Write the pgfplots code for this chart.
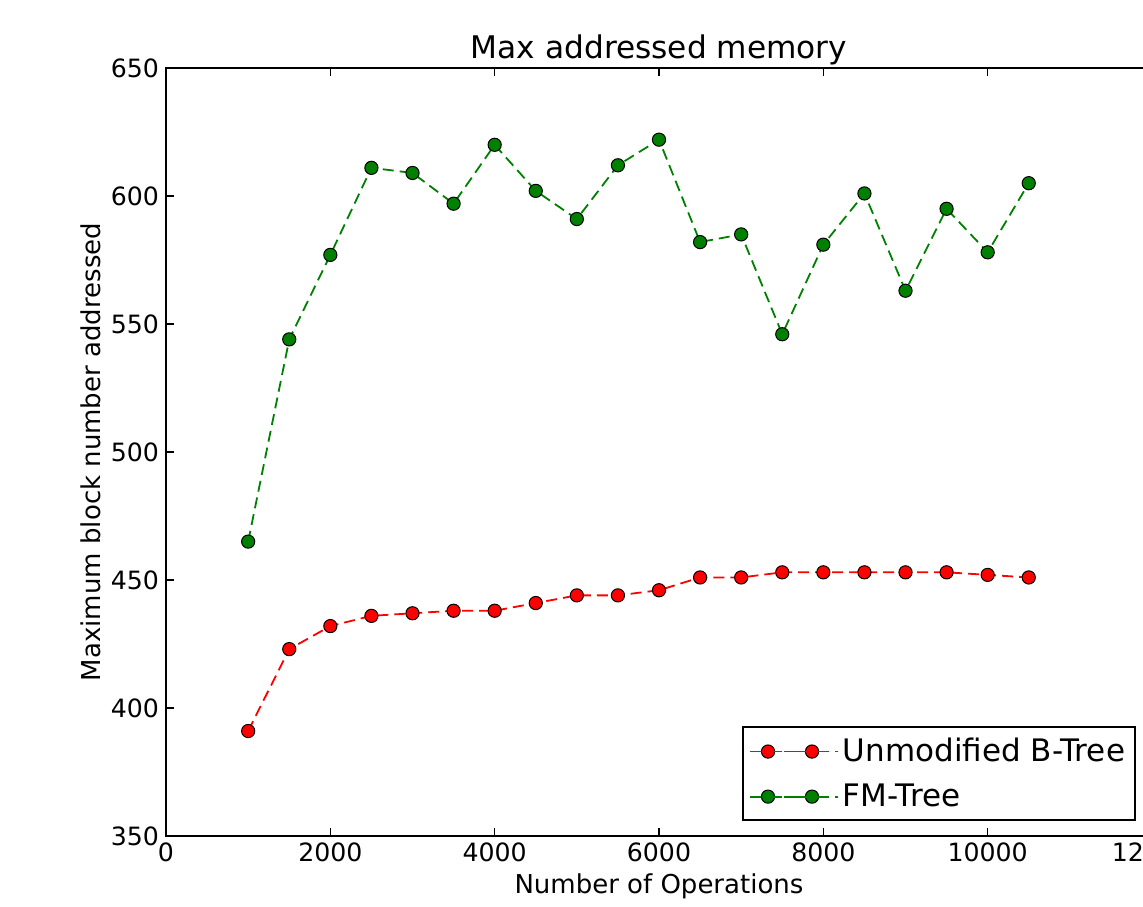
\documentclass[border=0pt]{standalone}
\usepackage{fontspec}
\setmainfont{DejaVu Sans}
\usepackage{pgfplots}
\pgfplotsset{compat=1.18}
\begin{document}
\begin{tikzpicture}
\begin{axis}[
 at={(0,0)}, anchor=south west,
 scale only axis, width=493pt, height=384pt,
 xmin=0, xmax=12000, ymin=350, ymax=650,
 xtick={0,2000,...,12000}, ytick={350,400,...,650},
 /pgf/number format/assume math mode=true,
 /pgf/number format/1000 sep={},
 scaled x ticks=false,
 tick align=inside, major tick length=4pt,
 axis line style={line width=1.2pt},
 every tick/.style={black, line width=0.8pt},
 ticklabel style={font=\fontsize{12.6}{15}\selectfont},
 title={Max addressed memory},
 title style={at={(axis description cs:0.5,1.0143)}, anchor=base, yshift=-6.5pt, font=\fontsize{15.6}{18}\selectfont},
 xlabel={Number of Operations},
 xlabel style={at={(axis description cs:0.5,-0.0742)}, anchor=base, font=\fontsize{13}{15}\selectfont},
 ylabel={Maximum block number addressed},
 ylabel style={at={(axis description cs:-0.066,0.5)}, anchor=base, rotate=0, font=\fontsize{13}{15}\selectfont},
 legend style={at={(0.9838,0.019)}, anchor=south east, font=\fontsize{15.5}{18}\selectfont, draw=black, line width=1pt, row sep=5.5pt, inner xsep=3pt, inner ysep=3.5pt},
 legend cell align=left,
 legend image code/.code={\draw[#1, mark repeat=1, dash pattern=on 7pt off 6.5pt] plot coordinates {(0pt,0pt) (22pt,0pt)}; \path (-9pt,0pt) -- (35pt,0pt);},
]
\addplot[red, line width=0.9pt, dash pattern=on 5.5pt off 3pt, mark=*, mark size=3.3pt, mark options={solid, fill=red, draw=black, line width=0.5pt}] coordinates {
(1000,391) (1500,423) (2000,432) (2500,436) (3000,437) (3500,438) (4000,438) (4500,441) (5000,444) (5500,444) (6000,446) (6500,451) (7000,451) (7500,453) (8000,453) (8500,453) (9000,453) (9500,453) (10000,452) (10500,451)};
\addlegendentry{Unmodified B-Tree}
\addplot[green!50!black, line width=0.9pt, dash pattern=on 5.5pt off 3pt, mark=*, mark size=3.3pt, mark options={solid, fill=green!50!black, draw=black, line width=0.5pt}] coordinates {
(1000,465) (1500,544) (2000,577) (2500,611) (3000,609) (3500,597) (4000,620) (4500,602) (5000,591) (5500,612) (6000,622) (6500,582) (7000,585) (7500,546) (8000,581) (8500,601) (9000,563) (9500,595) (10000,578) (10500,605)};
\addlegendentry{FM-Tree}
\end{axis}
\pgfresetboundingbox
\useasboundingbox (-83pt,-35pt) rectangle (488.5pt,418pt);
\end{tikzpicture}
\end{document}
